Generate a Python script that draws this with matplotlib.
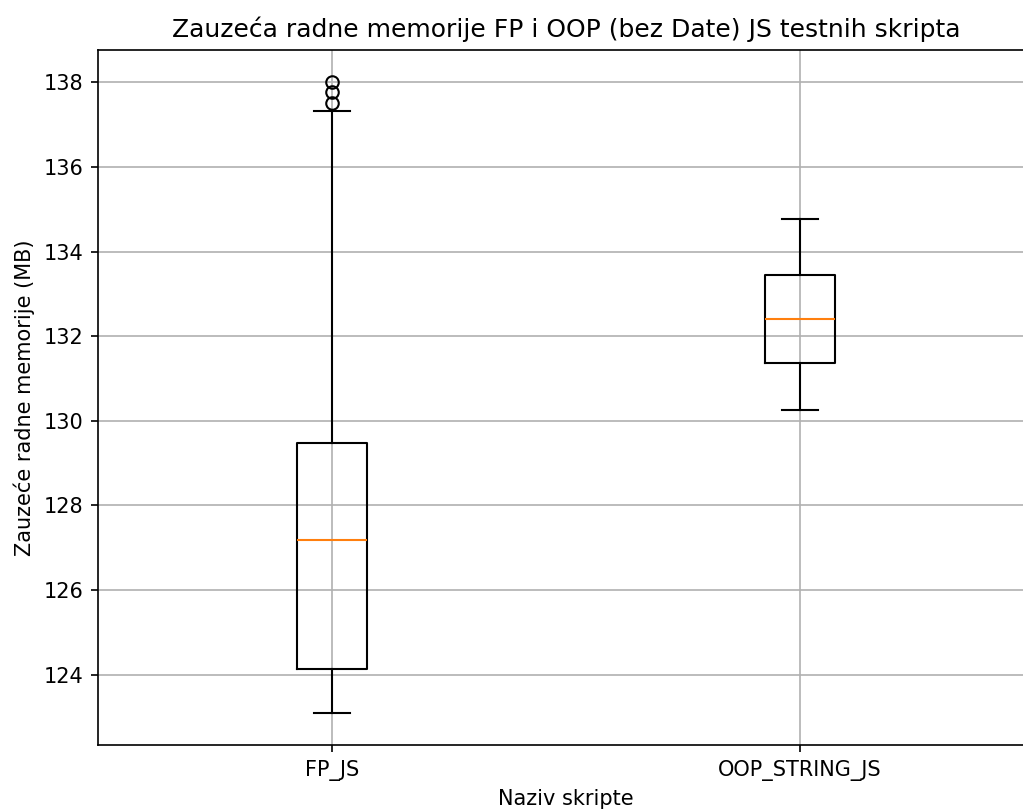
import matplotlib
matplotlib.use("Agg")
import matplotlib.pyplot as plt

# memory usage summary per script (MB)
scripts = ["FP_JS", "OOP_STRING_JS"]
whisker_low = [123.08, 130.26]
q1 = [124.12, 131.36]
median = [127.19, 132.40]
q3 = [129.47, 133.45]
whisker_high = [137.33, 134.78]
outliers = [[137.52, 137.77, 138.02], []]

stats = []
for i, name in enumerate(scripts):
    stats.append({
        "label": name,
        "whislo": whisker_low[i],
        "q1": q1[i],
        "med": median[i],
        "q3": q3[i],
        "whishi": whisker_high[i],
        "fliers": outliers[i],
    })

fig = plt.figure(figsize=(1023 / 150, 812 / 150), dpi=150)
ax = fig.add_axes([98 / 1023, 67 / 812, 936 / 1023, 695 / 812])
ax.bxp(stats)
ax.set_title("Zauzeća radne memorije FP i OOP (bez Date) JS testnih skripta")
ax.set_xlabel("Naziv skripte")
ax.set_ylabel("Zauzeće radne memorije (MB)")
ax.grid(True)
fig.savefig("out.png", dpi=150)
plt.close(fig)
